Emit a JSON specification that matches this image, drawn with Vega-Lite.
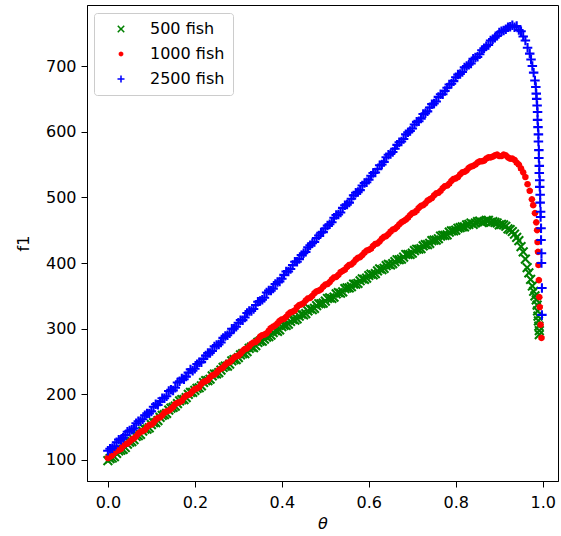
{
"$schema":"https://vega.github.io/schema/vega-lite/v6.json",
"width":471,"height":476,
"autosize":{"type":"none"},
"padding":{"left":87,"top":5,"right":3,"bottom":55},
"background":"white",
"data":{"values":[
{"t":0.00,"f":99,"s":"500 fish"},{"t":0.01,"f":103,"s":"500 fish"},{"t":0.02,"f":110,"s":"500 fish"},{"t":0.03,"f":115,"s":"500 fish"},{"t":0.04,"f":119,"s":"500 fish"},{"t":0.05,"f":127,"s":"500 fish"},{"t":0.06,"f":131,"s":"500 fish"},{"t":0.07,"f":137,"s":"500 fish"},{"t":0.08,"f":144,"s":"500 fish"},{"t":0.09,"f":147,"s":"500 fish"},
{"t":0.10,"f":154,"s":"500 fish"},{"t":0.11,"f":157,"s":"500 fish"},{"t":0.12,"f":165,"s":"500 fish"},{"t":0.13,"f":169,"s":"500 fish"},{"t":0.14,"f":176,"s":"500 fish"},{"t":0.15,"f":180,"s":"500 fish"},{"t":0.16,"f":186,"s":"500 fish"},{"t":0.17,"f":192,"s":"500 fish"},{"t":0.18,"f":195,"s":"500 fish"},{"t":0.19,"f":203,"s":"500 fish"},
{"t":0.20,"f":206,"s":"500 fish"},{"t":0.21,"f":210,"s":"500 fish"},{"t":0.22,"f":218,"s":"500 fish"},{"t":0.23,"f":221,"s":"500 fish"},{"t":0.24,"f":228,"s":"500 fish"},{"t":0.25,"f":231,"s":"500 fish"},{"t":0.26,"f":237,"s":"500 fish"},{"t":0.27,"f":243,"s":"500 fish"},{"t":0.28,"f":246,"s":"500 fish"},{"t":0.29,"f":253,"s":"500 fish"},
{"t":0.30,"f":256,"s":"500 fish"},{"t":0.31,"f":262,"s":"500 fish"},{"t":0.32,"f":265,"s":"500 fish"},{"t":0.33,"f":272,"s":"500 fish"},{"t":0.34,"f":274,"s":"500 fish"},{"t":0.35,"f":281,"s":"500 fish"},{"t":0.36,"f":284,"s":"500 fish"},{"t":0.37,"f":288,"s":"500 fish"},{"t":0.38,"f":294,"s":"500 fish"},{"t":0.39,"f":296,"s":"500 fish"},
{"t":0.40,"f":303,"s":"500 fish"},{"t":0.41,"f":305,"s":"500 fish"},{"t":0.42,"f":311,"s":"500 fish"},{"t":0.43,"f":313,"s":"500 fish"},{"t":0.44,"f":319,"s":"500 fish"},{"t":0.45,"f":321,"s":"500 fish"},{"t":0.46,"f":327,"s":"500 fish"},{"t":0.47,"f":329,"s":"500 fish"},{"t":0.48,"f":335,"s":"500 fish"},{"t":0.49,"f":338,"s":"500 fish"},
{"t":0.50,"f":342,"s":"500 fish"},{"t":0.51,"f":347,"s":"500 fish"},{"t":0.52,"f":348,"s":"500 fish"},{"t":0.53,"f":355,"s":"500 fish"},{"t":0.54,"f":356,"s":"500 fish"},{"t":0.55,"f":362,"s":"500 fish"},{"t":0.56,"f":364,"s":"500 fish"},{"t":0.57,"f":368,"s":"500 fish"},{"t":0.58,"f":373,"s":"500 fish"},{"t":0.59,"f":375,"s":"500 fish"},
{"t":0.60,"f":381,"s":"500 fish"},{"t":0.61,"f":382,"s":"500 fish"},{"t":0.62,"f":388,"s":"500 fish"},{"t":0.63,"f":390,"s":"500 fish"},{"t":0.64,"f":396,"s":"500 fish"},{"t":0.65,"f":397,"s":"500 fish"},{"t":0.66,"f":402,"s":"500 fish"},{"t":0.67,"f":405,"s":"500 fish"},{"t":0.68,"f":409,"s":"500 fish"},{"t":0.69,"f":413,"s":"500 fish"},
{"t":0.70,"f":415,"s":"500 fish"},{"t":0.71,"f":421,"s":"500 fish"},{"t":0.72,"f":422,"s":"500 fish"},{"t":0.73,"f":428,"s":"500 fish"},{"t":0.74,"f":430,"s":"500 fish"},{"t":0.75,"f":435,"s":"500 fish"},{"t":0.76,"f":437,"s":"500 fish"},{"t":0.77,"f":442,"s":"500 fish"},{"t":0.78,"f":443,"s":"500 fish"},{"t":0.79,"f":449,"s":"500 fish"},
{"t":0.80,"f":450,"s":"500 fish"},{"t":0.81,"f":454,"s":"500 fish"},{"t":0.82,"f":455,"s":"500 fish"},{"t":0.83,"f":459,"s":"500 fish"},{"t":0.84,"f":459,"s":"500 fish"},{"t":0.85,"f":463,"s":"500 fish"},{"t":0.86,"f":462,"s":"500 fish"},{"t":0.87,"f":465,"s":"500 fish"},{"t":0.88,"f":462,"s":"500 fish"},{"t":0.89,"f":462,"s":"500 fish"},
{"t":0.90,"f":458,"s":"500 fish"},{"t":0.91,"f":458,"s":"500 fish"},{"t":0.92,"f":452,"s":"500 fish"},{"t":0.93,"f":448,"s":"500 fish"},{"t":0.94,"f":439,"s":"500 fish"},{"t":0.945,"f":434,"s":"500 fish"},{"t":0.95,"f":425,"s":"500 fish"},{"t":0.955,"f":417,"s":"500 fish"},{"t":0.96,"f":406,"s":"500 fish"},{"t":0.964,"f":393,"s":"500 fish"},
{"t":0.968,"f":385,"s":"500 fish"},{"t":0.972,"f":375,"s":"500 fish"},{"t":0.976,"f":365,"s":"500 fish"},{"t":0.979,"f":357,"s":"500 fish"},{"t":0.982,"f":350,"s":"500 fish"},{"t":0.985,"f":344,"s":"500 fish"},{"t":0.987,"f":336,"s":"500 fish"},{"t":0.988,"f":327,"s":"500 fish"},{"t":0.989,"f":319,"s":"500 fish"},{"t":0.990,"f":312,"s":"500 fish"},
{"t":0.991,"f":304,"s":"500 fish"},{"t":0.992,"f":297,"s":"500 fish"},{"t":0.992,"f":291,"s":"500 fish"},
{"t":0.005,"f":102,"s":"500 fish"},{"t":0.015,"f":105,"s":"500 fish"},{"t":0.025,"f":114,"s":"500 fish"},{"t":0.035,"f":116,"s":"500 fish"},{"t":0.045,"f":124,"s":"500 fish"},{"t":0.055,"f":128,"s":"500 fish"},{"t":0.065,"f":136,"s":"500 fish"},{"t":0.075,"f":139,"s":"500 fish"},{"t":0.085,"f":147,"s":"500 fish"},{"t":0.095,"f":149,"s":"500 fish"},
{"t":0.105,"f":157,"s":"500 fish"},{"t":0.115,"f":160,"s":"500 fish"},{"t":0.125,"f":168,"s":"500 fish"},{"t":0.135,"f":171,"s":"500 fish"},{"t":0.145,"f":179,"s":"500 fish"},{"t":0.155,"f":182,"s":"500 fish"},{"t":0.165,"f":190,"s":"500 fish"},{"t":0.175,"f":192,"s":"500 fish"},{"t":0.185,"f":200,"s":"500 fish"},{"t":0.195,"f":203,"s":"500 fish"},
{"t":0.205,"f":209,"s":"500 fish"},{"t":0.215,"f":213,"s":"500 fish"},{"t":0.225,"f":221,"s":"500 fish"},{"t":0.235,"f":223,"s":"500 fish"},{"t":0.245,"f":231,"s":"500 fish"},{"t":0.255,"f":233,"s":"500 fish"},{"t":0.265,"f":241,"s":"500 fish"},{"t":0.275,"f":243,"s":"500 fish"},{"t":0.285,"f":251,"s":"500 fish"},{"t":0.295,"f":253,"s":"500 fish"},
{"t":0.305,"f":260,"s":"500 fish"},{"t":0.315,"f":262,"s":"500 fish"},{"t":0.325,"f":270,"s":"500 fish"},{"t":0.335,"f":271,"s":"500 fish"},{"t":0.345,"f":279,"s":"500 fish"},{"t":0.355,"f":281,"s":"500 fish"},{"t":0.365,"f":287,"s":"500 fish"},{"t":0.375,"f":290,"s":"500 fish"},{"t":0.385,"f":297,"s":"500 fish"},{"t":0.395,"f":298,"s":"500 fish"},
{"t":0.405,"f":305,"s":"500 fish"},{"t":0.415,"f":307,"s":"500 fish"},{"t":0.425,"f":314,"s":"500 fish"},{"t":0.435,"f":315,"s":"500 fish"},{"t":0.445,"f":322,"s":"500 fish"},{"t":0.455,"f":323,"s":"500 fish"},{"t":0.465,"f":330,"s":"500 fish"},{"t":0.475,"f":331,"s":"500 fish"},{"t":0.485,"f":338,"s":"500 fish"},{"t":0.495,"f":339,"s":"500 fish"},
{"t":0.505,"f":346,"s":"500 fish"},{"t":0.515,"f":346,"s":"500 fish"},{"t":0.525,"f":353,"s":"500 fish"},{"t":0.535,"f":354,"s":"500 fish"},{"t":0.545,"f":361,"s":"500 fish"},{"t":0.555,"f":362,"s":"500 fish"},{"t":0.565,"f":368,"s":"500 fish"},{"t":0.575,"f":369,"s":"500 fish"},{"t":0.585,"f":376,"s":"500 fish"},{"t":0.595,"f":377,"s":"500 fish"},
{"t":0.605,"f":383,"s":"500 fish"},{"t":0.615,"f":384,"s":"500 fish"},{"t":0.625,"f":391,"s":"500 fish"},{"t":0.635,"f":392,"s":"500 fish"},{"t":0.645,"f":398,"s":"500 fish"},{"t":0.655,"f":399,"s":"500 fish"},{"t":0.665,"f":405,"s":"500 fish"},{"t":0.675,"f":406,"s":"500 fish"},{"t":0.685,"f":413,"s":"500 fish"},{"t":0.695,"f":413,"s":"500 fish"},
{"t":0.705,"f":419,"s":"500 fish"},{"t":0.715,"f":421,"s":"500 fish"},{"t":0.725,"f":426,"s":"500 fish"},{"t":0.735,"f":428,"s":"500 fish"},{"t":0.745,"f":434,"s":"500 fish"},{"t":0.755,"f":435,"s":"500 fish"},{"t":0.765,"f":441,"s":"500 fish"},{"t":0.775,"f":442,"s":"500 fish"},{"t":0.785,"f":447,"s":"500 fish"},{"t":0.795,"f":449,"s":"500 fish"},
{"t":0.805,"f":453,"s":"500 fish"},{"t":0.815,"f":455,"s":"500 fish"},{"t":0.825,"f":458,"s":"500 fish"},{"t":0.835,"f":461,"s":"500 fish"},{"t":0.845,"f":461,"s":"500 fish"},{"t":0.855,"f":464,"s":"500 fish"},{"t":0.865,"f":463,"s":"500 fish"},{"t":0.875,"f":465,"s":"500 fish"},{"t":0.885,"f":463,"s":"500 fish"},{"t":0.895,"f":461,"s":"500 fish"},
{"t":0.905,"f":459,"s":"500 fish"},{"t":0.915,"f":456,"s":"500 fish"},{"t":0.925,"f":451,"s":"500 fish"},{"t":0.935,"f":444,"s":"500 fish"},
{"t":0.00,"f":103,"s":"1000 fish"},{"t":0.01,"f":107,"s":"1000 fish"},{"t":0.02,"f":114,"s":"1000 fish"},{"t":0.03,"f":117,"s":"1000 fish"},{"t":0.04,"f":124,"s":"1000 fish"},{"t":0.05,"f":128,"s":"1000 fish"},{"t":0.06,"f":133,"s":"1000 fish"},{"t":0.07,"f":140,"s":"1000 fish"},{"t":0.08,"f":144,"s":"1000 fish"},{"t":0.09,"f":150,"s":"1000 fish"},
{"t":0.10,"f":154,"s":"1000 fish"},{"t":0.11,"f":161,"s":"1000 fish"},{"t":0.12,"f":165,"s":"1000 fish"},{"t":0.13,"f":172,"s":"1000 fish"},{"t":0.14,"f":175,"s":"1000 fish"},{"t":0.15,"f":181,"s":"1000 fish"},{"t":0.16,"f":187,"s":"1000 fish"},{"t":0.17,"f":190,"s":"1000 fish"},{"t":0.18,"f":198,"s":"1000 fish"},{"t":0.19,"f":201,"s":"1000 fish"},
{"t":0.20,"f":208,"s":"1000 fish"},{"t":0.21,"f":211,"s":"1000 fish"},{"t":0.22,"f":219,"s":"1000 fish"},{"t":0.23,"f":222,"s":"1000 fish"},{"t":0.24,"f":229,"s":"1000 fish"},{"t":0.25,"f":233,"s":"1000 fish"},{"t":0.26,"f":239,"s":"1000 fish"},{"t":0.27,"f":245,"s":"1000 fish"},{"t":0.28,"f":249,"s":"1000 fish"},{"t":0.29,"f":256,"s":"1000 fish"},
{"t":0.30,"f":259,"s":"1000 fish"},{"t":0.31,"f":266,"s":"1000 fish"},{"t":0.32,"f":270,"s":"1000 fish"},{"t":0.33,"f":277,"s":"1000 fish"},{"t":0.34,"f":280,"s":"1000 fish"},{"t":0.35,"f":288,"s":"1000 fish"},{"t":0.36,"f":291,"s":"1000 fish"},{"t":0.37,"f":297,"s":"1000 fish"},{"t":0.38,"f":303,"s":"1000 fish"},{"t":0.39,"f":308,"s":"1000 fish"},
{"t":0.40,"f":314,"s":"1000 fish"},{"t":0.41,"f":318,"s":"1000 fish"},{"t":0.42,"f":325,"s":"1000 fish"},{"t":0.43,"f":328,"s":"1000 fish"},{"t":0.44,"f":336,"s":"1000 fish"},{"t":0.45,"f":339,"s":"1000 fish"},{"t":0.46,"f":346,"s":"1000 fish"},{"t":0.47,"f":350,"s":"1000 fish"},{"t":0.48,"f":357,"s":"1000 fish"},{"t":0.49,"f":360,"s":"1000 fish"},
{"t":0.50,"f":367,"s":"1000 fish"},{"t":0.51,"f":371,"s":"1000 fish"},{"t":0.52,"f":378,"s":"1000 fish"},{"t":0.53,"f":382,"s":"1000 fish"},{"t":0.54,"f":388,"s":"1000 fish"},{"t":0.55,"f":394,"s":"1000 fish"},{"t":0.56,"f":398,"s":"1000 fish"},{"t":0.57,"f":405,"s":"1000 fish"},{"t":0.58,"f":409,"s":"1000 fish"},{"t":0.59,"f":416,"s":"1000 fish"},
{"t":0.60,"f":420,"s":"1000 fish"},{"t":0.61,"f":426,"s":"1000 fish"},{"t":0.62,"f":430,"s":"1000 fish"},{"t":0.63,"f":437,"s":"1000 fish"},{"t":0.64,"f":441,"s":"1000 fish"},{"t":0.65,"f":448,"s":"1000 fish"},{"t":0.66,"f":452,"s":"1000 fish"},{"t":0.67,"f":459,"s":"1000 fish"},{"t":0.68,"f":464,"s":"1000 fish"},{"t":0.69,"f":469,"s":"1000 fish"},
{"t":0.70,"f":476,"s":"1000 fish"},{"t":0.71,"f":480,"s":"1000 fish"},{"t":0.72,"f":487,"s":"1000 fish"},{"t":0.73,"f":491,"s":"1000 fish"},{"t":0.74,"f":497,"s":"1000 fish"},{"t":0.75,"f":503,"s":"1000 fish"},{"t":0.76,"f":507,"s":"1000 fish"},{"t":0.77,"f":514,"s":"1000 fish"},{"t":0.78,"f":518,"s":"1000 fish"},{"t":0.79,"f":525,"s":"1000 fish"},
{"t":0.80,"f":529,"s":"1000 fish"},{"t":0.81,"f":535,"s":"1000 fish"},{"t":0.82,"f":539,"s":"1000 fish"},{"t":0.83,"f":545,"s":"1000 fish"},{"t":0.84,"f":548,"s":"1000 fish"},{"t":0.85,"f":553,"s":"1000 fish"},{"t":0.86,"f":555,"s":"1000 fish"},{"t":0.87,"f":559,"s":"1000 fish"},{"t":0.88,"f":561,"s":"1000 fish"},{"t":0.89,"f":564,"s":"1000 fish"},
{"t":0.90,"f":563,"s":"1000 fish"},{"t":0.91,"f":565,"s":"1000 fish"},{"t":0.92,"f":561,"s":"1000 fish"},{"t":0.93,"f":559,"s":"1000 fish"},{"t":0.94,"f":553,"s":"1000 fish"},{"t":0.945,"f":550,"s":"1000 fish"},{"t":0.95,"f":544,"s":"1000 fish"},{"t":0.955,"f":538,"s":"1000 fish"},{"t":0.96,"f":531,"s":"1000 fish"},{"t":0.965,"f":520,"s":"1000 fish"},
{"t":0.97,"f":510,"s":"1000 fish"},{"t":0.975,"f":497,"s":"1000 fish"},{"t":0.978,"f":488,"s":"1000 fish"},{"t":0.982,"f":476,"s":"1000 fish"},{"t":0.985,"f":462,"s":"1000 fish"},{"t":0.987,"f":450,"s":"1000 fish"},{"t":0.988,"f":432,"s":"1000 fish"},{"t":0.989,"f":417,"s":"1000 fish"},{"t":0.990,"f":397,"s":"1000 fish"},{"t":0.991,"f":374,"s":"1000 fish"},
{"t":0.992,"f":348,"s":"1000 fish"},{"t":0.993,"f":333,"s":"1000 fish"},{"t":0.995,"f":306,"s":"1000 fish"},{"t":0.997,"f":286,"s":"1000 fish"},
{"t":0.005,"f":105,"s":"1000 fish"},{"t":0.015,"f":111,"s":"1000 fish"},{"t":0.025,"f":115,"s":"1000 fish"},{"t":0.035,"f":121,"s":"1000 fish"},{"t":0.045,"f":125,"s":"1000 fish"},{"t":0.055,"f":131,"s":"1000 fish"},{"t":0.065,"f":136,"s":"1000 fish"},{"t":0.075,"f":143,"s":"1000 fish"},{"t":0.085,"f":146,"s":"1000 fish"},{"t":0.095,"f":153,"s":"1000 fish"},
{"t":0.105,"f":157,"s":"1000 fish"},{"t":0.115,"f":164,"s":"1000 fish"},{"t":0.125,"f":168,"s":"1000 fish"},{"t":0.135,"f":174,"s":"1000 fish"},{"t":0.145,"f":178,"s":"1000 fish"},{"t":0.155,"f":185,"s":"1000 fish"},{"t":0.165,"f":188,"s":"1000 fish"},{"t":0.175,"f":195,"s":"1000 fish"},{"t":0.185,"f":199,"s":"1000 fish"},{"t":0.195,"f":205,"s":"1000 fish"},
{"t":0.205,"f":209,"s":"1000 fish"},{"t":0.215,"f":216,"s":"1000 fish"},{"t":0.225,"f":220,"s":"1000 fish"},{"t":0.235,"f":226,"s":"1000 fish"},{"t":0.245,"f":230,"s":"1000 fish"},{"t":0.255,"f":237,"s":"1000 fish"},{"t":0.265,"f":241,"s":"1000 fish"},{"t":0.275,"f":248,"s":"1000 fish"},{"t":0.285,"f":252,"s":"1000 fish"},{"t":0.295,"f":258,"s":"1000 fish"},
{"t":0.305,"f":262,"s":"1000 fish"},{"t":0.315,"f":269,"s":"1000 fish"},{"t":0.325,"f":273,"s":"1000 fish"},{"t":0.335,"f":279,"s":"1000 fish"},{"t":0.345,"f":283,"s":"1000 fish"},{"t":0.355,"f":290,"s":"1000 fish"},{"t":0.365,"f":293,"s":"1000 fish"},{"t":0.375,"f":301,"s":"1000 fish"},{"t":0.385,"f":305,"s":"1000 fish"},{"t":0.395,"f":312,"s":"1000 fish"},
{"t":0.405,"f":315,"s":"1000 fish"},{"t":0.415,"f":322,"s":"1000 fish"},{"t":0.425,"f":326,"s":"1000 fish"},{"t":0.435,"f":333,"s":"1000 fish"},{"t":0.445,"f":337,"s":"1000 fish"},{"t":0.455,"f":343,"s":"1000 fish"},{"t":0.465,"f":347,"s":"1000 fish"},{"t":0.475,"f":354,"s":"1000 fish"},{"t":0.485,"f":358,"s":"1000 fish"},{"t":0.495,"f":364,"s":"1000 fish"},
{"t":0.505,"f":368,"s":"1000 fish"},{"t":0.515,"f":375,"s":"1000 fish"},{"t":0.525,"f":379,"s":"1000 fish"},{"t":0.535,"f":386,"s":"1000 fish"},{"t":0.545,"f":390,"s":"1000 fish"},{"t":0.555,"f":397,"s":"1000 fish"},{"t":0.565,"f":401,"s":"1000 fish"},{"t":0.575,"f":408,"s":"1000 fish"},{"t":0.585,"f":412,"s":"1000 fish"},{"t":0.595,"f":419,"s":"1000 fish"},
{"t":0.605,"f":422,"s":"1000 fish"},{"t":0.615,"f":429,"s":"1000 fish"},{"t":0.625,"f":433,"s":"1000 fish"},{"t":0.635,"f":440,"s":"1000 fish"},{"t":0.645,"f":444,"s":"1000 fish"},{"t":0.655,"f":451,"s":"1000 fish"},{"t":0.665,"f":455,"s":"1000 fish"},{"t":0.675,"f":462,"s":"1000 fish"},{"t":0.685,"f":466,"s":"1000 fish"},{"t":0.695,"f":473,"s":"1000 fish"},
{"t":0.705,"f":477,"s":"1000 fish"},{"t":0.715,"f":484,"s":"1000 fish"},{"t":0.725,"f":488,"s":"1000 fish"},{"t":0.735,"f":495,"s":"1000 fish"},{"t":0.745,"f":499,"s":"1000 fish"},{"t":0.755,"f":506,"s":"1000 fish"},{"t":0.765,"f":510,"s":"1000 fish"},{"t":0.775,"f":517,"s":"1000 fish"},{"t":0.785,"f":521,"s":"1000 fish"},{"t":0.795,"f":528,"s":"1000 fish"},
{"t":0.805,"f":531,"s":"1000 fish"},{"t":0.815,"f":538,"s":"1000 fish"},{"t":0.825,"f":541,"s":"1000 fish"},{"t":0.835,"f":547,"s":"1000 fish"},{"t":0.845,"f":550,"s":"1000 fish"},{"t":0.855,"f":555,"s":"1000 fish"},{"t":0.865,"f":556,"s":"1000 fish"},{"t":0.875,"f":561,"s":"1000 fish"},{"t":0.885,"f":562,"s":"1000 fish"},{"t":0.895,"f":565,"s":"1000 fish"},
{"t":0.905,"f":563,"s":"1000 fish"},{"t":0.915,"f":564,"s":"1000 fish"},{"t":0.925,"f":559,"s":"1000 fish"},{"t":0.935,"f":557,"s":"1000 fish"},
{"t":0.00,"f":114,"s":"2500 fish"},{"t":0.01,"f":118,"s":"2500 fish"},{"t":0.02,"f":127,"s":"2500 fish"},{"t":0.03,"f":131,"s":"2500 fish"},{"t":0.04,"f":138,"s":"2500 fish"},{"t":0.05,"f":145,"s":"2500 fish"},{"t":0.06,"f":148,"s":"2500 fish"},{"t":0.07,"f":159,"s":"2500 fish"},{"t":0.08,"f":162,"s":"2500 fish"},{"t":0.09,"f":171,"s":"2500 fish"},
{"t":0.10,"f":174,"s":"2500 fish"},{"t":0.11,"f":185,"s":"2500 fish"},{"t":0.12,"f":189,"s":"2500 fish"},{"t":0.13,"f":194,"s":"2500 fish"},{"t":0.14,"f":205,"s":"2500 fish"},{"t":0.15,"f":206,"s":"2500 fish"},{"t":0.16,"f":218,"s":"2500 fish"},{"t":0.17,"f":224,"s":"2500 fish"},{"t":0.18,"f":227,"s":"2500 fish"},{"t":0.19,"f":238,"s":"2500 fish"},
{"t":0.20,"f":239,"s":"2500 fish"},{"t":0.21,"f":249,"s":"2500 fish"},{"t":0.22,"f":254,"s":"2500 fish"},{"t":0.23,"f":263,"s":"2500 fish"},{"t":0.24,"f":266,"s":"2500 fish"},{"t":0.25,"f":275,"s":"2500 fish"},{"t":0.26,"f":279,"s":"2500 fish"},{"t":0.27,"f":289,"s":"2500 fish"},{"t":0.28,"f":293,"s":"2500 fish"},{"t":0.29,"f":300,"s":"2500 fish"},
{"t":0.30,"f":309,"s":"2500 fish"},{"t":0.31,"f":313,"s":"2500 fish"},{"t":0.32,"f":324,"s":"2500 fish"},{"t":0.33,"f":327,"s":"2500 fish"},{"t":0.34,"f":336,"s":"2500 fish"},{"t":0.35,"f":342,"s":"2500 fish"},{"t":0.36,"f":347,"s":"2500 fish"},{"t":0.37,"f":358,"s":"2500 fish"},{"t":0.38,"f":361,"s":"2500 fish"},{"t":0.39,"f":371,"s":"2500 fish"},
{"t":0.40,"f":376,"s":"2500 fish"},{"t":0.41,"f":387,"s":"2500 fish"},{"t":0.42,"f":391,"s":"2500 fish"},{"t":0.43,"f":402,"s":"2500 fish"},{"t":0.44,"f":406,"s":"2500 fish"},{"t":0.45,"f":415,"s":"2500 fish"},{"t":0.46,"f":424,"s":"2500 fish"},{"t":0.47,"f":430,"s":"2500 fish"},{"t":0.48,"f":438,"s":"2500 fish"},{"t":0.49,"f":446,"s":"2500 fish"},
{"t":0.50,"f":453,"s":"2500 fish"},{"t":0.51,"f":459,"s":"2500 fish"},{"t":0.52,"f":469,"s":"2500 fish"},{"t":0.53,"f":474,"s":"2500 fish"},{"t":0.54,"f":484,"s":"2500 fish"},{"t":0.55,"f":489,"s":"2500 fish"},{"t":0.56,"f":498,"s":"2500 fish"},{"t":0.57,"f":507,"s":"2500 fish"},{"t":0.58,"f":511,"s":"2500 fish"},{"t":0.59,"f":522,"s":"2500 fish"},
{"t":0.60,"f":527,"s":"2500 fish"},{"t":0.61,"f":537,"s":"2500 fish"},{"t":0.62,"f":543,"s":"2500 fish"},{"t":0.63,"f":550,"s":"2500 fish"},{"t":0.64,"f":561,"s":"2500 fish"},{"t":0.65,"f":566,"s":"2500 fish"},{"t":0.66,"f":574,"s":"2500 fish"},{"t":0.67,"f":584,"s":"2500 fish"},{"t":0.68,"f":589,"s":"2500 fish"},{"t":0.69,"f":599,"s":"2500 fish"},
{"t":0.70,"f":605,"s":"2500 fish"},{"t":0.71,"f":615,"s":"2500 fish"},{"t":0.72,"f":620,"s":"2500 fish"},{"t":0.73,"f":628,"s":"2500 fish"},{"t":0.74,"f":637,"s":"2500 fish"},{"t":0.75,"f":643,"s":"2500 fish"},{"t":0.76,"f":653,"s":"2500 fish"},{"t":0.77,"f":657,"s":"2500 fish"},{"t":0.78,"f":667,"s":"2500 fish"},{"t":0.79,"f":673,"s":"2500 fish"},
{"t":0.80,"f":683,"s":"2500 fish"},{"t":0.81,"f":688,"s":"2500 fish"},{"t":0.82,"f":698,"s":"2500 fish"},{"t":0.83,"f":702,"s":"2500 fish"},{"t":0.84,"f":711,"s":"2500 fish"},{"t":0.85,"f":714,"s":"2500 fish"},{"t":0.86,"f":724,"s":"2500 fish"},{"t":0.87,"f":730,"s":"2500 fish"},{"t":0.88,"f":739,"s":"2500 fish"},{"t":0.89,"f":743,"s":"2500 fish"},
{"t":0.90,"f":751,"s":"2500 fish"},{"t":0.91,"f":754,"s":"2500 fish"},{"t":0.92,"f":759,"s":"2500 fish"},{"t":0.925,"f":760,"s":"2500 fish"},{"t":0.93,"f":762,"s":"2500 fish"},{"t":0.935,"f":759,"s":"2500 fish"},{"t":0.94,"f":761,"s":"2500 fish"},{"t":0.945,"f":755,"s":"2500 fish"},{"t":0.95,"f":753,"s":"2500 fish"},{"t":0.955,"f":745,"s":"2500 fish"},
{"t":0.96,"f":739,"s":"2500 fish"},{"t":0.965,"f":728,"s":"2500 fish"},{"t":0.97,"f":719,"s":"2500 fish"},{"t":0.973,"f":710,"s":"2500 fish"},{"t":0.976,"f":700,"s":"2500 fish"},{"t":0.979,"f":690,"s":"2500 fish"},{"t":0.982,"f":678,"s":"2500 fish"},{"t":0.984,"f":668,"s":"2500 fish"},{"t":0.985,"f":658,"s":"2500 fish"},{"t":0.986,"f":650,"s":"2500 fish"},
{"t":0.987,"f":640,"s":"2500 fish"},{"t":0.988,"f":630,"s":"2500 fish"},{"t":0.988,"f":618,"s":"2500 fish"},{"t":0.989,"f":607,"s":"2500 fish"},{"t":0.990,"f":596,"s":"2500 fish"},{"t":0.990,"f":585,"s":"2500 fish"},{"t":0.991,"f":572,"s":"2500 fish"},{"t":0.991,"f":560,"s":"2500 fish"},{"t":0.992,"f":548,"s":"2500 fish"},{"t":0.992,"f":537,"s":"2500 fish"},
{"t":0.993,"f":526,"s":"2500 fish"},{"t":0.993,"f":516,"s":"2500 fish"},{"t":0.994,"f":504,"s":"2500 fish"},{"t":0.994,"f":492,"s":"2500 fish"},{"t":0.995,"f":478,"s":"2500 fish"},{"t":0.995,"f":470,"s":"2500 fish"},{"t":0.996,"f":453,"s":"2500 fish"},{"t":0.996,"f":435,"s":"2500 fish"},{"t":0.997,"f":415,"s":"2500 fish"},{"t":0.997,"f":400,"s":"2500 fish"},
{"t":0.998,"f":362,"s":"2500 fish"},{"t":0.998,"f":321,"s":"2500 fish"},
{"t":0.005,"f":117,"s":"2500 fish"},{"t":0.015,"f":121,"s":"2500 fish"},{"t":0.025,"f":131,"s":"2500 fish"},{"t":0.035,"f":134,"s":"2500 fish"},{"t":0.045,"f":143,"s":"2500 fish"},{"t":0.055,"f":146,"s":"2500 fish"},{"t":0.065,"f":156,"s":"2500 fish"},{"t":0.075,"f":159,"s":"2500 fish"},{"t":0.085,"f":168,"s":"2500 fish"},{"t":0.095,"f":171,"s":"2500 fish"},
{"t":0.105,"f":181,"s":"2500 fish"},{"t":0.115,"f":184,"s":"2500 fish"},{"t":0.125,"f":194,"s":"2500 fish"},{"t":0.135,"f":197,"s":"2500 fish"},{"t":0.145,"f":207,"s":"2500 fish"},{"t":0.155,"f":210,"s":"2500 fish"},{"t":0.165,"f":220,"s":"2500 fish"},{"t":0.175,"f":223,"s":"2500 fish"},{"t":0.185,"f":233,"s":"2500 fish"},{"t":0.195,"f":236,"s":"2500 fish"},
{"t":0.205,"f":246,"s":"2500 fish"},{"t":0.215,"f":249,"s":"2500 fish"},{"t":0.225,"f":259,"s":"2500 fish"},{"t":0.235,"f":263,"s":"2500 fish"},{"t":0.245,"f":273,"s":"2500 fish"},{"t":0.255,"f":276,"s":"2500 fish"},{"t":0.265,"f":286,"s":"2500 fish"},{"t":0.275,"f":290,"s":"2500 fish"},{"t":0.285,"f":300,"s":"2500 fish"},{"t":0.295,"f":303,"s":"2500 fish"},
{"t":0.305,"f":313,"s":"2500 fish"},{"t":0.315,"f":317,"s":"2500 fish"},{"t":0.325,"f":327,"s":"2500 fish"},{"t":0.335,"f":330,"s":"2500 fish"},{"t":0.345,"f":341,"s":"2500 fish"},{"t":0.355,"f":344,"s":"2500 fish"},{"t":0.365,"f":355,"s":"2500 fish"},{"t":0.375,"f":358,"s":"2500 fish"},{"t":0.385,"f":368,"s":"2500 fish"},{"t":0.395,"f":372,"s":"2500 fish"},
{"t":0.405,"f":382,"s":"2500 fish"},{"t":0.415,"f":387,"s":"2500 fish"},{"t":0.425,"f":397,"s":"2500 fish"},{"t":0.435,"f":402,"s":"2500 fish"},{"t":0.445,"f":412,"s":"2500 fish"},{"t":0.455,"f":417,"s":"2500 fish"},{"t":0.465,"f":427,"s":"2500 fish"},{"t":0.475,"f":432,"s":"2500 fish"},{"t":0.485,"f":442,"s":"2500 fish"},{"t":0.495,"f":447,"s":"2500 fish"},
{"t":0.505,"f":457,"s":"2500 fish"},{"t":0.515,"f":462,"s":"2500 fish"},{"t":0.525,"f":473,"s":"2500 fish"},{"t":0.535,"f":477,"s":"2500 fish"},{"t":0.545,"f":488,"s":"2500 fish"},{"t":0.555,"f":492,"s":"2500 fish"},{"t":0.565,"f":503,"s":"2500 fish"},{"t":0.575,"f":508,"s":"2500 fish"},{"t":0.585,"f":518,"s":"2500 fish"},{"t":0.595,"f":523,"s":"2500 fish"},
{"t":0.605,"f":533,"s":"2500 fish"},{"t":0.615,"f":538,"s":"2500 fish"},{"t":0.625,"f":549,"s":"2500 fish"},{"t":0.635,"f":554,"s":"2500 fish"},{"t":0.645,"f":565,"s":"2500 fish"},{"t":0.655,"f":569,"s":"2500 fish"},{"t":0.665,"f":580,"s":"2500 fish"},{"t":0.675,"f":585,"s":"2500 fish"},{"t":0.685,"f":596,"s":"2500 fish"},{"t":0.695,"f":601,"s":"2500 fish"},
{"t":0.705,"f":611,"s":"2500 fish"},{"t":0.715,"f":616,"s":"2500 fish"},{"t":0.725,"f":627,"s":"2500 fish"},{"t":0.735,"f":631,"s":"2500 fish"},{"t":0.745,"f":642,"s":"2500 fish"},{"t":0.755,"f":646,"s":"2500 fish"},{"t":0.765,"f":657,"s":"2500 fish"},{"t":0.775,"f":662,"s":"2500 fish"},{"t":0.785,"f":672,"s":"2500 fish"},{"t":0.795,"f":677,"s":"2500 fish"},
{"t":0.805,"f":687,"s":"2500 fish"},{"t":0.815,"f":691,"s":"2500 fish"},{"t":0.825,"f":700,"s":"2500 fish"},{"t":0.835,"f":704,"s":"2500 fish"},{"t":0.845,"f":713,"s":"2500 fish"},{"t":0.855,"f":718,"s":"2500 fish"},{"t":0.865,"f":727,"s":"2500 fish"},{"t":0.875,"f":732,"s":"2500 fish"},{"t":0.885,"f":741,"s":"2500 fish"},{"t":0.895,"f":746,"s":"2500 fish"},
{"t":0.905,"f":753,"s":"2500 fish"},{"t":0.915,"f":756,"s":"2500 fish"}
]},
"mark":{"type":"point","filled":true,"opacity":1,"strokeWidth":0,"size":90},
"encoding":{
"x":{"field":"t","type":"quantitative","scale":{"domain":[-0.048,1.035],"nice":false,"zero":false},
 "axis":{"title":"θ","values":[0,0.2,0.4,0.6,0.8,1],"format":".1f","titleFontStyle":"italic","titlePadding":5,"labelPadding":7}},
"y":{"field":"f","type":"quantitative","scale":{"domain":[68,793],"nice":false,"zero":false},
 "axis":{"title":"f1","values":[100,200,300,400,500,600,700],"titlePadding":14}},
"color":{"field":"s","type":"nominal","scale":{"domain":["500 fish","1000 fish","2500 fish"],"range":["#008000","#ff0000","#0000ff"]}},
"shape":{"field":"s","type":"nominal","scale":{"domain":["500 fish","1000 fish","2500 fish"],"range":["M1.075,-0.764L0.311,0L1.075,0.764L0.764,1.075L0,0.311L-0.764,1.075L-1.075,0.764L-0.311,0L-1.075,-0.764L-0.764,-1.075L0,-0.311L0.764,-1.075Z","M0.7,0L0.606,0.35L0.35,0.606L0,0.7L-0.35,0.606L-0.606,0.35L-0.7,0L-0.606,-0.35L-0.35,-0.606L0,-0.7L0.35,-0.606L0.606,-0.35Z","M0.22,-1L0.22,-0.22L1,-0.22L1,0.22L0.22,0.22L0.22,1L-0.22,1L-0.22,0.22L-1,0.22L-1,-0.22L-0.22,-0.22L-0.22,-1Z"]}}
},
"config":{
"view":{"stroke":"black","strokeWidth":1},
"font":"DejaVu Sans",
"axis":{"grid":false,"domainColor":"black","tickColor":"black","labelColor":"black","titleColor":"black","labelFont":"DejaVu Sans","labelFontSize":16,"titleFont":"DejaVu Sans","titleFontSize":16,"titleFontWeight":"normal","tickSize":6,"labelPadding":5,"domainWidth":1,"tickWidth":1},
"legend":{"orient":"none","legendX":7,"legendY":8,"title":null,"fillColor":"white","strokeColor":"#cccccc","cornerRadius":3,"padding":8,"labelFont":"DejaVu Sans","labelFontSize":16,"labelColor":"black","rowPadding":9,"symbolOffset":11,"labelOffset":21,"symbolStrokeWidth":0,"symbolSize":49}
}
}
